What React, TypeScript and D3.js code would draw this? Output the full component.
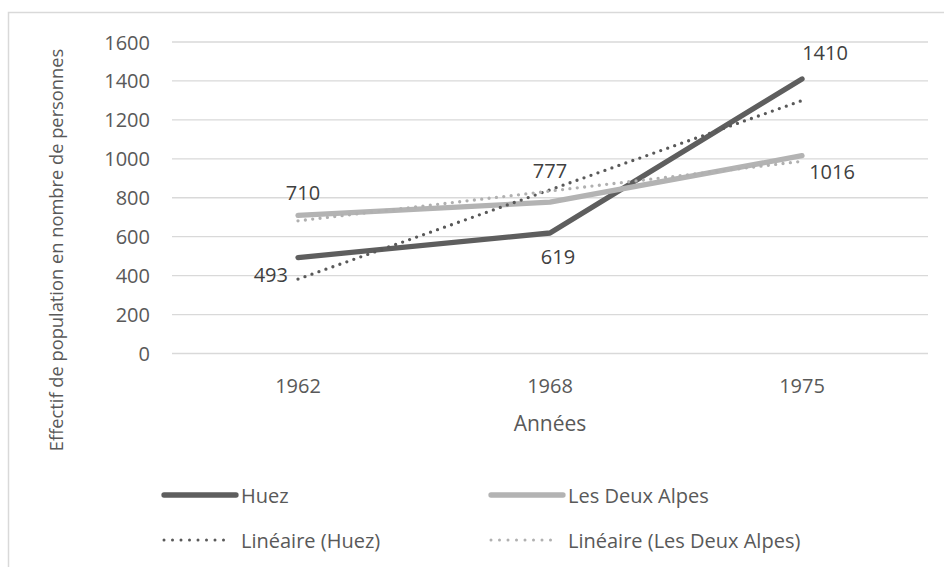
import React, { useEffect, useRef } from 'react';
import * as d3 from 'd3';

const years = ['1962', '1968', '1975'];
const huez = [493, 619, 1410];
const deuxAlpes = [710, 777, 1016];
const yTicks = [0, 200, 400, 600, 800, 1000, 1200, 1400, 1600];

const W = 944;
const H = 567;
const TXT = '#595959';
const FONT = "'Open Sans', sans-serif";

// régression linéaire simple (comme la courbe de tendance Excel)
function linear(vals: number[]) {
  const n = vals.length;
  const xs = vals.map((v, i) => i + 1);
  const mx = d3.mean(xs) as number;
  const my = d3.mean(vals) as number;
  let num = 0;
  let den = 0;
  xs.forEach((x, i) => {
    num += (x - mx) * (vals[i] - my);
    den += (x - mx) * (x - mx);
  });
  const b = num / den;
  const a = my - b * mx;
  return [a + b * 1, a + b * n];
}

export default function App() {
  const ref = useRef<SVGSVGElement>(null);

  useEffect(() => {
    const svg = d3.select(ref.current);
    svg.selectAll('*').remove();

    // cadre du graphique
    svg.append('rect')
      .attr('x', 8.5).attr('y', 12.5)
      .attr('width', W + 20).attr('height', H + 20)
      .attr('fill', '#fff').attr('stroke', '#d9d9d9').attr('stroke-width', 1.5);

    const x = d3.scaleBand().domain(years).range([172, 928]);
    const y = d3.scaleLinear().domain([0, 1600]).range([353.5, 42]);
    const cx = (d: string) => (x(d) as number) + x.bandwidth() / 2;

    // grille + graduations
    const g = svg.append('g');
    yTicks.forEach(t => {
      g.append('line')
        .attr('x1', 172).attr('x2', 928)
        .attr('y1', y(t)).attr('y2', y(t))
        .attr('stroke', '#d9d9d9').attr('stroke-width', 1.3);
      g.append('text')
        .attr('x', 150).attr('y', y(t))
        .attr('text-anchor', 'end').attr('dominant-baseline', 'central')
        .attr('font-size', 20).attr('font-family', FONT).attr('fill', TXT)
        .text(t);
    });
    years.forEach(d => {
      g.append('text')
        .attr('x', cx(d)).attr('y', 385)
        .attr('text-anchor', 'middle').attr('dominant-baseline', 'central')
        .attr('font-size', 20).attr('font-family', FONT).attr('fill', TXT)
        .text(d);
    });

    g.append('text')
      .attr('x', 550).attr('y', 423)
      .attr('text-anchor', 'middle').attr('dominant-baseline', 'central')
      .attr('font-size', 21).attr('font-family', FONT).attr('fill', TXT)
      .text('Années');

    g.append('text')
      .attr('transform', `translate(${55},${250}) rotate(-90)`)
      .attr('text-anchor', 'middle').attr('dominant-baseline', 'central')
      .attr('font-size', 18.3).attr('font-family', FONT).attr('fill', TXT)
      .text('Effectif de population en nombre de personnes');

    const line = d3.line<number>()
      .x((d, i) => cx(years[i]))
      .y(d => y(d));

    const series = [
      { name: 'Huez', vals: huez, color: '#5e5e5e', trend: '#595959' },
      { name: 'Les Deux Alpes', vals: deuxAlpes, color: '#b3b3b3', trend: '#b0b0b0' },
    ];

    series.forEach(s => {
      g.append('path')
        .attr('d', line(s.vals))
        .attr('fill', 'none').attr('stroke', s.color)
        .attr('stroke-width', 5.3).attr('stroke-linecap', 'round').attr('stroke-linejoin', 'round');
    });

    // courbes de tendance
    series.forEach(s => {
      const tr = linear(s.vals);
      g.append('line')
        .attr('x1', cx(years[0])).attr('x2', cx(years[years.length - 1]))
        .attr('y1', y(tr[0])).attr('y2', y(tr[1]))
        .attr('stroke', s.trend).attr('stroke-width', 3.3)
        .attr('stroke-linecap', 'round').attr('stroke-dasharray', '0 7.4');
    });

    // étiquettes
    const offs = [
      [[-10, 17, 'end'], [8, 24, 'middle'], [23, -26, 'middle']],
      [[5, -23, 'middle'], [0, -32, 'middle'], [30, 16, 'middle']],
    ];
    series.forEach((s, si) => {
      s.vals.forEach((v, i) => {
        const o = offs[si][i];
        g.append('text')
          .attr('x', cx(years[i]) + (o[0] as number))
          .attr('y', y(v) + (o[1] as number))
          .attr('text-anchor', o[2] as string).attr('dominant-baseline', 'central')
          .attr('font-size', 20).attr('font-family', FONT).attr('fill', '#404040')
          .text(v);
      });
    });

    // légende
    const leg = [
      { x: 164, y: 495, label: 'Huez', color: '#5e5e5e', dot: false },
      { x: 491, y: 495, label: 'Les Deux Alpes', color: '#b3b3b3', dot: false },
      { x: 164, y: 540, label: 'Linéaire (Huez)', color: '#595959', dot: true },
      { x: 491, y: 540, label: 'Linéaire (Les Deux Alpes)', color: '#b0b0b0', dot: true },
    ];
    leg.forEach(l => {
      const ln = g.append('line')
        .attr('x1', l.x).attr('x2', l.x + (l.dot ? 68 : 72))
        .attr('y1', l.y).attr('y2', l.y)
        .attr('stroke', l.color)
        .attr('stroke-linecap', 'round');
      if (l.dot) ln.attr('stroke-width', 3).attr('stroke-dasharray', '0 8.5');
      else ln.attr('stroke-width', 5.3);
      g.append('text')
        .attr('x', l.x + 77).attr('y', l.y)
        .attr('dominant-baseline', 'central')
        .attr('font-size', 20).attr('font-family', FONT).attr('fill', TXT)
        .text(l.label);
    });
  }, []);

  return (
    <svg ref={ref} width={W} height={H} style={{ position: 'absolute', left: 0, top: 0, display: 'block' }} />
  );
}
